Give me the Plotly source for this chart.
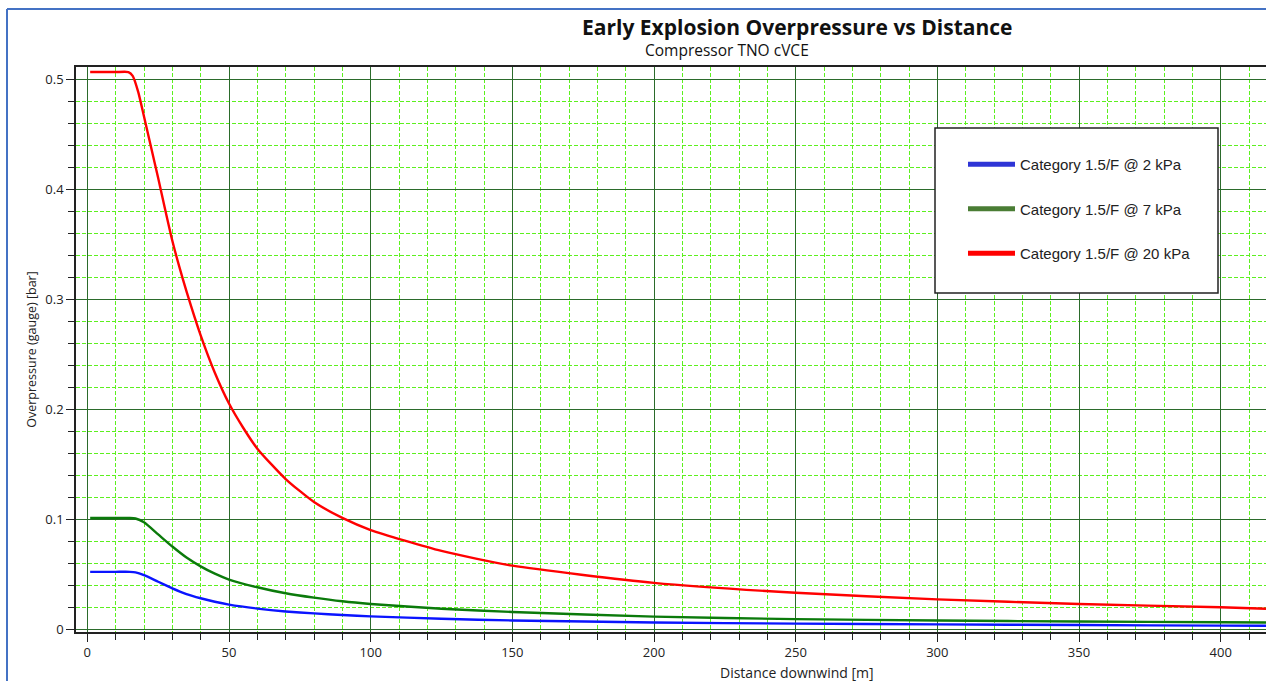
import plotly.graph_objects as go

# ---- data ----
dist_2kpa = [1, 5, 10, 15, 17, 20, 25, 30, 35, 40, 45, 50, 60, 70, 80, 90, 100, 125, 150, 200, 250, 300, 350, 400, 416]
op_2kpa = [0.052, 0.052, 0.052, 0.052, 0.0515, 0.049, 0.043, 0.037, 0.0318, 0.028, 0.0248, 0.0222, 0.0186, 0.016, 0.0142, 0.0127, 0.0115, 0.0093, 0.0078, 0.006, 0.0049, 0.0042, 0.0036, 0.0031, 0.003]

dist_7kpa = [1, 5, 10, 15, 17, 20, 25, 30, 35, 40, 45, 50, 60, 70, 80, 90, 100, 125, 150, 200, 250, 300, 350, 400, 416]
op_7kpa = [0.101, 0.101, 0.101, 0.101, 0.1005, 0.097, 0.086, 0.075, 0.065, 0.057, 0.0503, 0.045, 0.038, 0.0325, 0.0285, 0.0252, 0.0228, 0.0185, 0.0155, 0.0113, 0.009, 0.0078, 0.0068, 0.0062, 0.006]

dist_20kpa = [1, 5, 10, 14.5, 16, 18, 20, 22.5, 25, 27.5, 30, 32.5, 35, 40, 45, 50, 55, 60, 70, 80, 90, 100, 125, 150, 200, 250, 300, 350, 400, 416]
op_20kpa = [0.5064, 0.5064, 0.5064, 0.5064, 0.503, 0.488, 0.466, 0.438, 0.41, 0.381, 0.353, 0.329, 0.307, 0.267, 0.233, 0.205, 0.183, 0.164, 0.1364, 0.1155, 0.101, 0.09, 0.071, 0.0576, 0.042, 0.033, 0.027, 0.0227, 0.0198, 0.0185]

series_names = ["Category 1.5/F @ 2 kPa", "Category 1.5/F @ 7 kPa", "Category 1.5/F @ 20 kPa"]
series_colors = ["#0a14ff", "#0b7a0b", "#ff0000"]
legend_colors = ["#2e35d6", "#4a7d34", "#ff0000"]

x_dtick = 50
x_minor_dtick = 10
y_dtick = 0.1
y_minor_dtick = 0.02

fig = go.Figure()
data = [(dist_2kpa, op_2kpa), (dist_7kpa, op_7kpa), (dist_20kpa, op_20kpa)]
for i, ((xs, ys), name, col) in enumerate(zip(data, series_names, series_colors)):
    fig.add_trace(go.Scatter(
        x=xs, y=ys, mode="lines", name=name,
        line=dict(color=col, width=2.4, shape="spline", smoothing=0.6),
        showlegend=False,
    ))
    fig.add_trace(go.Scatter(
        x=[None], y=[None], mode="lines", name=name,
        line=dict(color=legend_colors[i], width=5),
        legendgroup="g%d" % i,
    ))

tick_font = dict(family="Open Sans, Noto Sans, sans-serif", size=13, color="#222")
text_font = "Open Sans, Noto Sans, sans-serif"

W, H = 1266, 681
L, T, R, B = 76, 67, 0, 49
PW, PH = W - L - R, H - T - B

def px(x):
    return (x - L) / PW

def py(y):
    return (H - B - y) / PH

fig.update_layout(
    width=W, height=H,
    margin=dict(l=L, r=R, t=T, b=B),
    paper_bgcolor="white", plot_bgcolor="white",
    showlegend=True,
    legend=dict(
        x=px(963), y=py(148), xanchor="left", yanchor="top",
        bgcolor="rgba(0,0,0,0)", borderwidth=0,
        font=dict(family="Liberation Sans Narrow, Liberation Sans, Arial, sans-serif", size=15, color="#222"),
        tracegroupgap=22, itemwidth=47,
        traceorder="grouped",
    ),
    xaxis=dict(
        range=[-4, 416], tick0=0, dtick=x_dtick, ticks="outside", ticklen=8,
        tickcolor="#222", tickwidth=1.2,
        showline=True, linecolor="#222", linewidth=1.5, mirror=True,
        showgrid=True, gridcolor="#2b6b2b", gridwidth=1.4,
        zeroline=False,
        tickfont=tick_font,
        minor=dict(dtick=x_minor_dtick, tick0=0, showgrid=True, gridcolor="#5cf01e", griddash="4px,2px",
                   gridwidth=1.2, ticks="outside", ticklen=6, tickcolor="#222"),
    ),
    yaxis=dict(
        range=[-0.0027, 0.511], tick0=0, dtick=y_dtick,
        ticks="outside", ticklen=8, tickcolor="#222", tickwidth=1.2,
        showline=True, linecolor="#222", linewidth=1.5, mirror=False,
        showgrid=True, gridcolor="#2b6b2b", gridwidth=1.4,
        zeroline=False,
        tickfont=tick_font,
        minor=dict(dtick=y_minor_dtick, tick0=0, showgrid=True, gridcolor="#5cf01e", griddash="4px,2px",
                   gridwidth=1.2, ticks="outside", ticklen=6, tickcolor="#222"),
        title=dict(text="Overpressure (gauge) [bar]", font=dict(family=text_font, size=12.5, color="#222"), standoff=6),
    ),
    annotations=[
        dict(text="<b>Early Explosion Overpressure vs Distance</b>", xref="paper", yref="paper",
             x=px(797), y=py(27), xanchor="center", yanchor="middle",
             showarrow=False, font=dict(family=text_font, size=21, color="#111")),
        dict(text="Compressor TNO cVCE", xref="paper", yref="paper",
             x=px(727), y=py(50), xanchor="center", yanchor="middle",
             showarrow=False, font=dict(family=text_font, size=15.5, color="#111")),
        dict(text="Distance downwind [m]", xref="paper", yref="paper",
             x=px(797), y=py(672), xanchor="center", yanchor="middle",
             showarrow=False, font=dict(family=text_font, size=14, color="#222")),
    ],
    shapes=[
        dict(type="rect", xref="paper", yref="paper", x0=px(935), x1=px(1218),
             y0=py(293), y1=py(128), layer="above",
             fillcolor="white", line=dict(color="#222", width=1.5)),
        dict(type="line", xref="paper", yref="paper", x0=px(7), x1=px(7),
             y0=py(9), y1=py(700), line=dict(color="#4472c4", width=2)),
        dict(type="line", xref="paper", yref="paper", x0=px(7), x1=px(1280),
             y0=py(9), y1=py(9), line=dict(color="#4472c4", width=2)),
    ],
)

fig.write_html("out.html")
